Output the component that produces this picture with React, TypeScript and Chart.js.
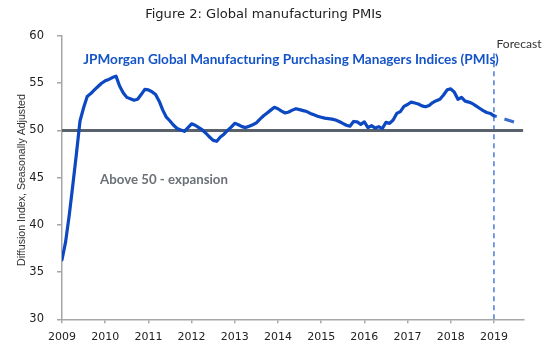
import React, { useEffect, useRef } from 'react';
import { Chart, registerables } from 'chart.js';

Chart.register(...registerables);

// ---- Data ----
const startYear = 2009;
const yearTicks = [2009, 2010, 2011, 2012, 2013, 2014, 2015, 2016, 2017, 2018, 2019];
const yTicks = [30, 35, 40, 45, 50, 55, 60];

// Monthly PMI values, Jan..Dec of each year
const pmi2009 = [36.3, 38.2, 41.0, 44.2, 47.5, 51.0, 52.4, 53.6, 53.9, 54.3, 54.65, 55.0];
const pmi2010 = [55.25, 55.4, 55.6, 55.75, 54.7, 54.0, 53.5, 53.35, 53.2, 53.3, 53.8, 54.35];
const pmi2011 = [54.3, 54.1, 53.8, 53.1, 52.15, 51.4, 51.0, 50.55, 50.2, 50.05, 49.9, 50.3];
const pmi2012 = [50.7, 50.55, 50.3, 50.05, 49.7, 49.3, 48.95, 48.85, 49.3, 49.6, 50.0, 50.35];
const pmi2013 = [50.75, 50.6, 50.4, 50.3, 50.45, 50.6, 50.8, 51.2, 51.55, 51.85, 52.15, 52.45];
const pmi2014 = [52.3, 52.05, 51.85, 51.95, 52.15, 52.3, 52.2, 52.1, 52.0, 51.8, 51.65, 51.5];
const pmi2015 = [51.4, 51.3, 51.25, 51.2, 51.1, 50.95, 50.75, 50.55, 50.45, 50.95, 50.9, 50.65];
const pmi2016 = [50.9, 50.3, 50.5, 50.25, 50.4, 50.2, 50.85, 50.75, 51.1, 51.8, 52.0, 52.55];
const pmi2017 = [52.75, 53.0, 52.9, 52.8, 52.6, 52.5, 52.65, 52.95, 53.15, 53.3, 53.75, 54.3];
const pmi2018 = [54.4, 54.05, 53.3, 53.5, 53.1, 53.0, 52.85, 52.6, 52.35, 52.1, 51.9, 51.8];
const pmi2019 = [51.55];

// Forecast segment
const forecastX = [2019, 2019.5];
const forecastY = [51.55, 50.85];

// Reference lines
const thresholdValue = 50;
const xMin = 2009;
const xMax = 2019.68;
const yMin = 30;
const yMax = 60;
const forecastLineX = 2019;
const forecastLineTop = 58.2;

const titleText = 'Figure 2: Global manufacturing PMIs';
const seriesLabel = 'JPMorgan Global Manufacturing Purchasing Managers Indices (PMIs)';
const expansionLabel = 'Above 50 - expansion';
const forecastLabel = 'Forecast';
const yAxisTitle = 'Diffusion Index, Seasonally Adjusted';

const allPmi = [
  ...pmi2009, ...pmi2010, ...pmi2011, ...pmi2012, ...pmi2013,
  ...pmi2014, ...pmi2015, ...pmi2016, ...pmi2017, ...pmi2018, ...pmi2019,
];

function drawFitted(
  ctx: CanvasRenderingContext2D,
  text: string,
  cx: number,
  cy: number,
  width: number,
  weight: string,
  family: string,
  color: string,
  rotate = 0
) {
  ctx.save();
  ctx.font = `${weight} 100px ${family}`;
  const w = ctx.measureText(text).width;
  const size = (100 * width) / w;
  ctx.font = `${weight} ${size}px ${family}`;
  ctx.fillStyle = color;
  ctx.textAlign = 'center';
  ctx.textBaseline = 'middle';
  ctx.translate(cx, cy);
  if (rotate) ctx.rotate(rotate);
  ctx.fillText(text, 0, 0);
  ctx.restore();
}

const textPlugin = {
  id: 'texts',
  afterDraw(chart: any) {
    const ctx = chart.ctx as CanvasRenderingContext2D;
    drawFitted(ctx, titleText, 263.5, 15, 237, 'normal', '"DejaVu Sans"', '#222222');
    drawFitted(ctx, seriesLabel, 291, 59.5, 416, 'bold', 'Lato', '#1554c8');
    drawFitted(ctx, expansionLabel, 164, 180, 128, 'bold', 'Lato', '#6b7176');
    drawFitted(ctx, forecastLabel, 519, 44, 45, 'normal', 'Lato', '#333333');
    drawFitted(ctx, yAxisTitle, 22, 180, 172, 'normal', '"Liberation Sans"', '#333333', -Math.PI / 2);
  },
};

export default function App() {
  const ref = useRef<HTMLCanvasElement>(null);

  useEffect(() => {
    if (!ref.current) return;
    const mainData = allPmi.map((v, i) => ({ x: startYear + i / 12, y: v }));
    const fcData = forecastX.map((x, i) => ({ x, y: forecastY[i] }));
    const chart = new Chart(ref.current, {
      type: 'line',
      data: {
        datasets: [
          {
            data: mainData,
            borderColor: '#0c48c2',
            borderWidth: 3.2,
            pointRadius: 0,
            tension: 0,
            borderJoinStyle: 'round',
            borderCapStyle: 'round',
          },
          {
            data: fcData,
            borderColor: '#3a6bd0',
            borderWidth: 3,
            pointRadius: 0,
            borderDash: [10, 8],
            borderDashOffset: 7,
          },
          {
            data: [
              { x: xMin, y: thresholdValue },
              { x: xMax, y: thresholdValue },
            ],
            borderColor: '#59626b',
            borderWidth: 3,
            pointRadius: 0,
          },
          {
            data: [
              { x: forecastLineX, y: yMin },
              { x: forecastLineX, y: forecastLineTop },
            ],
            borderColor: '#4a7ad6',
            borderWidth: 1.5,
            pointRadius: 0,
            borderDash: [5, 4],
          },
        ],
      } as any,
      options: {
        responsive: false,
        animation: false,
        layout: { padding: { left: 0, top: 36, right: 550 - 523.3, bottom: 0 } },
        plugins: { legend: { display: false }, tooltip: { enabled: false }, title: { display: false } },
        scales: {
          x: {
            type: 'linear',
            min: xMin,
            max: xMax,
            afterBuildTicks: (s: any) => {
              s.ticks = yearTicks.map((v) => ({ value: v }));
            },
            afterFit: (s: any) => {
              s.height = 352 - 319.3;
            },
            ticks: {
              callback: (v: any) => String(v),
              font: { family: '"DejaVu Sans"', size: 11 },
              color: '#222222',
              padding: 7,
              maxRotation: 0,
              autoSkip: false,
            },
            grid: { display: true, drawOnChartArea: false, drawTicks: true, tickLength: 4, color: '#a6a6a6', lineWidth: 1.5 },
            border: { display: true, color: '#a6a6a6', width: 1.5 },
          },
          y: {
            type: 'linear',
            min: yMin,
            max: yMax,
            afterBuildTicks: (s: any) => {
              s.ticks = yTicks.map((v) => ({ value: v }));
            },
            afterFit: (s: any) => {
              s.width = 62;
            },
            ticks: {
              callback: (v: any) => String(v),
              font: { family: '"DejaVu Sans"', size: 11.5 },
              color: '#222222',
              padding: 13,
            },
            grid: { display: true, drawOnChartArea: false, drawTicks: true, tickLength: 5, color: '#a6a6a6', lineWidth: 1.5 },
            border: { display: true, color: '#a6a6a6', width: 1.5 },
          },
        },
      } as any,
      plugins: [textPlugin],
    });
    return () => chart.destroy();
  }, []);

  return (
    <div style={{ position: 'absolute', left: 0, top: 0, width: 550, height: 352, background: '#ffffff' }}>
      <canvas ref={ref} width={550} height={352} style={{ width: 550, height: 352, display: 'block' }} />
    </div>
  );
}
